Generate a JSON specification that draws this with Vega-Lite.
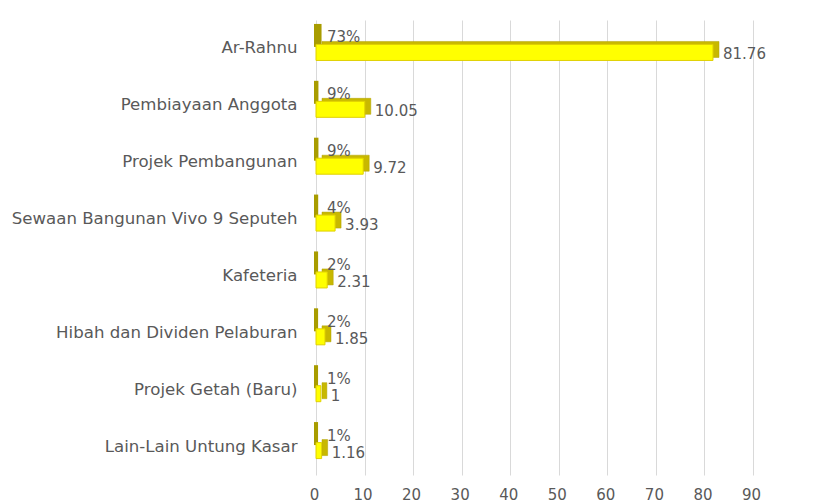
{
  "$schema": "https://vega.github.io/schema/vega-lite/v6.json",
  "width": 437,
  "height": 455,
  "autosize": "none",
  "padding": {"left": 316, "top": 20, "right": 76, "bottom": 29},
  "background": "white",
  "config": {
    "view": {"stroke": null},
    "font": "DejaVu Sans",
    "axis": {"labelFont": "DejaVu Sans", "labelColor": "#595959", "labelFontSize": 15}
  },
  "data": {
    "values": [
      {"category": "Ar-Rahnu", "value": 81.76, "pct": 0.73},
      {"category": "Pembiayaan Anggota", "value": 10.05, "pct": 0.09},
      {"category": "Projek Pembangunan", "value": 9.72, "pct": 0.09},
      {"category": "Sewaan Bangunan Vivo 9 Seputeh", "value": 3.93, "pct": 0.04},
      {"category": "Kafeteria", "value": 2.31, "pct": 0.02},
      {"category": "Hibah dan Dividen Pelaburan", "value": 1.85, "pct": 0.02},
      {"category": "Projek Getah (Baru)", "value": 1, "pct": 0.01},
      {"category": "Lain-Lain Untung Kasar", "value": 1.16, "pct": 0.01}
    ]
  },
  "encoding": {
    "y": {
      "field": "category",
      "type": "nominal",
      "sort": null,
      "title": null,
      "axis": {"domain": false, "ticks": false, "labelPadding": 19, "labelLimit": 400, "labelFontSize": 16.6}
    }
  },
  "layer": [
    {
      "mark": {"type": "bar", "height": 19, "yOffset": -13, "fill": "#D8CC00", "stroke": "#A89C00", "strokeWidth": 4},
      "encoding": {
        "x": {
          "field": "pct",
          "type": "quantitative",
          "scale": {"domain": [0, 90], "nice": false},
          "title": null,
          "axis": {
            "values": [0, 10, 20, 30, 40, 50, 60, 70, 80, 90],
            "grid": true,
            "gridColor": "#d9d9d9",
            "gridWidth": 1,
            "domain": false,
            "ticks": false,
            "labelFlush": false,
            "labelOffset": -2,
            "labelPadding": 12
          }
        }
      }
    },
    {
      "mark": {"type": "bar", "height": 16, "yOffset": 1, "xOffset": 6, "fill": "#C8B800", "stroke": "#B0A000", "strokeWidth": 0.5},
      "encoding": {"x": {"field": "value", "type": "quantitative"}}
    },
    {
      "mark": {"type": "bar", "height": 16, "yOffset": 4, "fill": "#FFFF00", "stroke": "#E0D000", "strokeWidth": 1},
      "encoding": {"x": {"field": "value", "type": "quantitative"}}
    },
    {
      "mark": {"type": "text", "align": "left", "baseline": "middle", "dx": 11, "yOffset": -11, "fontSize": 15, "color": "#595959"},
      "encoding": {
        "x": {"datum": 0, "type": "quantitative"},
        "text": {"field": "pct", "type": "quantitative", "format": ".0%"}
      }
    },
    {
      "mark": {"type": "text", "align": "left", "baseline": "middle", "dx": 10, "yOffset": 6, "fontSize": 15, "color": "#595959"},
      "encoding": {
        "x": {"field": "value", "type": "quantitative"},
        "text": {"field": "value", "type": "quantitative"}
      }
    }
  ]
}
